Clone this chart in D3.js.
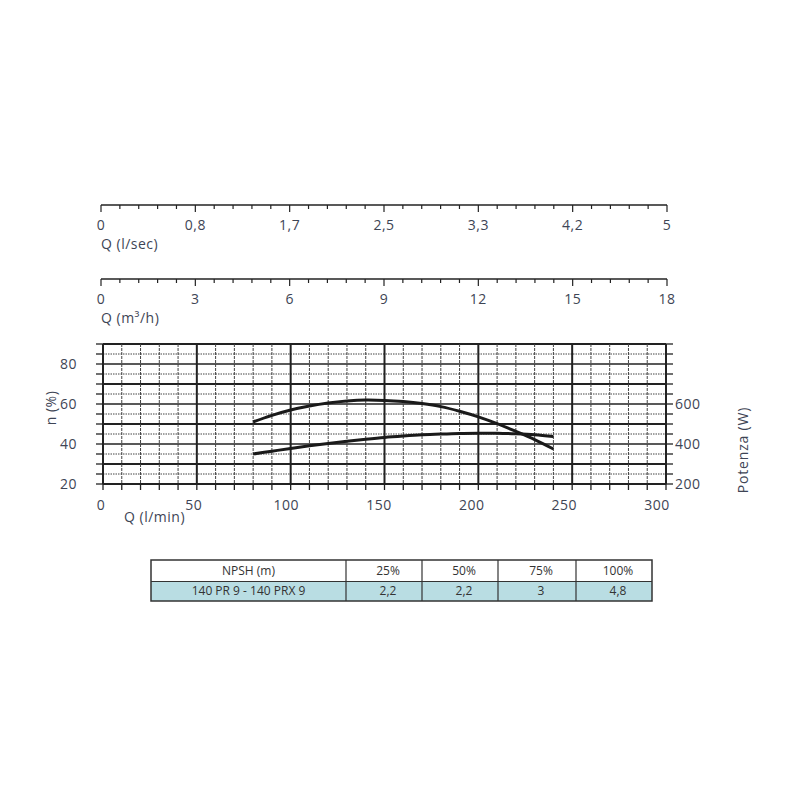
<!DOCTYPE html>
<html>
<head>
<meta charset="utf-8">
<script src="https://cdn.jsdelivr.net/npm/d3@7"></script>
<style>
  body { margin: 0; background: #fff; }
  svg text { font-family: "Open Sans", sans-serif; }
</style>
</head>
<body>
<div id="chart"></div>
<script>
// curve readings, Q in l/min
var flowLmin   = [80, 90, 100, 110, 120, 130, 140, 150, 160, 170, 180, 190, 200, 210, 220, 230, 240];
var efficiency = [51, 54.3, 57, 59, 60.5, 61.5, 62, 61.8, 61.2, 60.2, 58.7, 56.4, 53.6, 50.2, 46.3, 42.2, 37.5];
var power      = [350, 364, 378, 391, 403, 414, 424, 433, 440, 446, 450, 453, 454, 454, 451, 446, 437];

var lminTicks  = [0, 50, 100, 150, 200, 250, 300];
var lsecLabels = ["0", "0,8", "1,7", "2,5", "3,3", "4,2", "5"];
var m3hLabels  = ["0", "3", "6", "9", "12", "15", "18"];
var etaTicks   = [20, 40, 60, 80];
var powerTicks = [200, 400, 600];

var npshHead   = ["NPSH (m)", "25%", "50%", "75%", "100%"];
var npshRow    = ["140 PR 9 - 140 PRX 9", "2,2", "2,2", "3", "4,8"];

var width = 800, height = 800;
var ink = "#222", labelCol = "#3e4555";

var svg = d3.select("#chart").append("svg")
    .attr("width", width)
    .attr("height", height);

var x = d3.scaleLinear().domain([0, 300]).range([103, 666]);
var xLab = d3.scaleLinear().domain([0, 300]).range([101, 657]);
var xTop = d3.scaleLinear().domain([0, 300]).range([101, 667]);
var y = d3.scaleLinear().domain([20, 90]).range([484, 344]);
var yW = d3.scaleLinear().domain([200, 900]).range([484, 344]);

// ---- top flow scales (l/sec and m3/h) ----
function topAxis(yPos, labels, title) {
    var g = svg.append("g");
    g.append("line")
        .attr("x1", xTop(0)).attr("x2", xTop(300))
        .attr("y1", yPos).attr("y2", yPos)
        .attr("stroke", ink).attr("stroke-width", 1.5);
    g.selectAll(".tk").data(d3.range(0, 301, 10)).enter().append("line")
        .attr("x1", function(d) { return xTop(d); })
        .attr("x2", function(d) { return xTop(d); })
        .attr("y1", yPos)
        .attr("y2", function(d) { return yPos + (d % 50 === 0 ? 7 : 4); })
        .attr("stroke", ink).attr("stroke-width", 1.2);
    g.selectAll(".lb").data(lminTicks).enter().append("text")
        .attr("x", function(d) { return xTop(d); })
        .attr("y", yPos + 25)
        .attr("text-anchor", "middle")
        .attr("font-size", 14)
        .attr("letter-spacing", 0.5)
        .attr("fill", labelCol)
        .text(function(d, i) { return labels[i]; });
    g.append("text")
        .attr("x", 101).attr("y", yPos + 44)
        .attr("font-size", 14)
        .attr("letter-spacing", 0.5)
        .attr("fill", labelCol)
        .text(title);
}
topAxis(205, lsecLabels, "Q (l/sec)");
topAxis(279, m3hLabels, "Q (m³/h)");

// ---- grid ----
var grid = svg.append("g");
var hLines = d3.range(20, 91, 5);
grid.selectAll(".h").data(hLines).enter().append("line")
    .attr("x1", x(0)).attr("x2", x(300))
    .attr("y1", function(d) { return y(d); })
    .attr("y2", function(d) { return y(d); })
    .attr("stroke", function(d) { return d % 10 === 5 ? "#444" : ink; })
    .attr("stroke-width", function(d) {
        if (d % 10 === 5) return 1;
        if (d === 20 || d === 90 || d % 20 === 10) return 2.2;
        return 1.4;
    })
    .attr("stroke-dasharray", function(d) { return d % 10 === 5 ? "1.5,1" : null; });

var vLines = d3.range(0, 301, 10);
grid.selectAll(".v").data(vLines).enter().append("line")
    .attr("x1", function(d) { return x(d); })
    .attr("x2", function(d) { return x(d); })
    .attr("y1", y(90)).attr("y2", y(20))
    .attr("stroke", function(d) { return d % 50 === 0 ? ink : "#444"; })
    .attr("stroke-width", function(d) { return d % 50 === 0 ? 2 : 1; })
    .attr("stroke-dasharray", function(d) { return d % 50 === 0 ? null : "3,1"; });

// small ticks outside the frame
grid.selectAll(".tl").data(hLines).enter().append("line")
    .attr("x1", x(0) - 7).attr("x2", x(0))
    .attr("y1", function(d) { return y(d); })
    .attr("y2", function(d) { return y(d); })
    .attr("stroke", ink).attr("stroke-width", 1.3);
grid.selectAll(".tr").data(hLines).enter().append("line")
    .attr("x1", x(300)).attr("x2", x(300) + 7)
    .attr("y1", function(d) { return y(d); })
    .attr("y2", function(d) { return y(d); })
    .attr("stroke", ink).attr("stroke-width", 1.3);
grid.selectAll(".tb").data(vLines).enter().append("line")
    .attr("x1", function(d) { return x(d); })
    .attr("x2", function(d) { return x(d); })
    .attr("y1", y(20)).attr("y2", y(20) + 6)
    .attr("stroke", ink).attr("stroke-width", 1.3);

// ---- axis labels ----
svg.append("g").selectAll("text").data(lminTicks).enter().append("text")
    .attr("x", function(d) { return xLab(d); })
    .attr("y", 510)
    .attr("text-anchor", "middle")
    .attr("font-size", 14)
    .attr("letter-spacing", 0.5)
    .attr("fill", labelCol)
    .text(function(d) { return d; });

svg.append("text")
    .attr("x", 124).attr("y", 522)
    .attr("font-size", 14)
    .attr("letter-spacing", 0.5)
    .attr("fill", labelCol)
    .text("Q (l/min)");

svg.append("g").selectAll("text").data(etaTicks).enter().append("text")
    .attr("x", 77)
    .attr("y", function(d) { return y(d) + 5; })
    .attr("text-anchor", "end")
    .attr("font-size", 14)
    .attr("letter-spacing", 0.5)
    .attr("fill", labelCol)
    .text(function(d) { return d; });

svg.append("g").selectAll("text").data(powerTicks).enter().append("text")
    .attr("x", 675)
    .attr("y", function(d) { return yW(d) + 5; })
    .attr("font-size", 14)
    .attr("letter-spacing", 0.5)
    .attr("fill", labelCol)
    .text(function(d) { return d; });

svg.append("text")
    .attr("transform", "translate(56,408) rotate(-90)")
    .attr("text-anchor", "middle")
    .attr("font-size", 14)
    .attr("letter-spacing", 0.5)
    .attr("fill", labelCol)
    .text("n (%)");

svg.append("text")
    .attr("transform", "translate(748,450) rotate(-90)")
    .attr("text-anchor", "middle")
    .attr("font-size", 14)
    .attr("letter-spacing", 0.8)
    .attr("fill", labelCol)
    .text("Potenza (W)");

// ---- curves ----
var effLine = d3.line()
    .x(function(d, i) { return x(flowLmin[i]); })
    .y(function(d) { return y(d); })
    .curve(d3.curveCatmullRom);
var powLine = d3.line()
    .x(function(d, i) { return x(flowLmin[i]); })
    .y(function(d) { return yW(d); })
    .curve(d3.curveCatmullRom);

svg.append("path").datum(efficiency)
    .attr("fill", "none").attr("stroke", "#1a1a1a")
    .attr("stroke-width", 3).attr("stroke-linecap", "butt")
    .attr("d", effLine);
svg.append("path").datum(power)
    .attr("fill", "none").attr("stroke", "#1a1a1a")
    .attr("stroke-width", 3).attr("stroke-linecap", "butt")
    .attr("d", powLine);

// ---- NPSH table ----
var colEdges = [151, 346, 422, 498, 576, 652];
var rowEdges = [560, 581.5, 601];
var tbl = svg.append("g");

tbl.append("rect")
    .attr("x", colEdges[0]).attr("y", rowEdges[1])
    .attr("width", colEdges[5] - colEdges[0])
    .attr("height", rowEdges[2] - rowEdges[1])
    .attr("fill", "#b9dde3");

[npshHead, npshRow].forEach(function(row, r) {
    tbl.selectAll(".c" + r).data(row).enter().append("text")
        .attr("x", function(d, i) { return (colEdges[i] + colEdges[i + 1]) / 2 + (i > 0 ? 4 : 0); })
        .attr("y", (rowEdges[r] + rowEdges[r + 1]) / 2 + 4)
        .attr("text-anchor", "middle")
        .attr("font-size", 12)
        .attr("fill", "#333")
        .text(function(d) { return d; });
});

tbl.append("rect")
    .attr("x", colEdges[0]).attr("y", rowEdges[0])
    .attr("width", colEdges[5] - colEdges[0])
    .attr("height", rowEdges[2] - rowEdges[0])
    .attr("fill", "none").attr("stroke", "#333").attr("stroke-width", 1.5);
tbl.append("line")
    .attr("x1", colEdges[0]).attr("x2", colEdges[5])
    .attr("y1", rowEdges[1]).attr("y2", rowEdges[1])
    .attr("stroke", "#333").attr("stroke-width", 1.2);
tbl.selectAll(".sep").data(colEdges.slice(1, 5)).enter().append("line")
    .attr("x1", function(d) { return d; })
    .attr("x2", function(d) { return d; })
    .attr("y1", rowEdges[0]).attr("y2", rowEdges[2])
    .attr("stroke", "#333").attr("stroke-width", 1.2);
</script>
</body>
</html>
